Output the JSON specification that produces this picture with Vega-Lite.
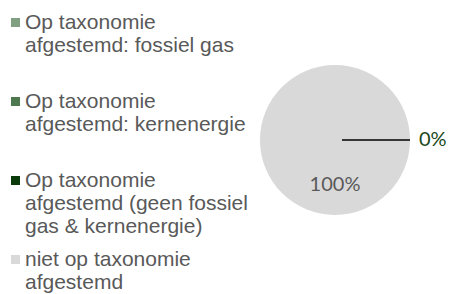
{
  "$schema": "https://vega.github.io/schema/vega-lite/v6.json",
  "width": 150,
  "height": 266,
  "padding": {"left": 0, "top": 7, "right": 0, "bottom": 0},
  "background": "white",
  "config": {"view": {"stroke": null}},
  "data": {
    "values": [
      {"categorie": "Op taxonomie afgestemd: fossiel gas", "aandeel": 0, "volgorde": 1},
      {"categorie": "Op taxonomie afgestemd: kernenergie", "aandeel": 0, "volgorde": 2},
      {"categorie": "Op taxonomie afgestemd (geen fossiel gas & kernenergie)", "aandeel": 0, "volgorde": 3},
      {"categorie": "niet op taxonomie afgestemd", "aandeel": 1, "volgorde": 4}
    ]
  },
  "encoding": {
    "theta": {"field": "aandeel", "type": "quantitative", "stack": true, "scale": {"range": [1.5708, 7.854]}},
    "order": {"field": "volgorde", "type": "quantitative"}
  },
  "layer": [
    {
      "mark": {"type": "arc", "radius": 75},
      "encoding": {
        "color": {
          "field": "categorie",
          "type": "nominal",
          "sort": null,
          "scale": {
            "domain": ["Op taxonomie afgestemd: fossiel gas", "Op taxonomie afgestemd: kernenergie", "Op taxonomie afgestemd (geen fossiel gas & kernenergie)", "niet op taxonomie afgestemd"],
            "range": ["#819F81", "#4E784E", "#0B3B0B", "#D9D9D9"]
          },
          "legend": {
            "orient": "left",
            "title": null,
            "symbolType": "square",
            "symbolSize": 81,
            "symbolStrokeWidth": 0,
            "labelFont": "Liberation Sans",
            "labelFontSize": 21,
            "labelColor": "#595959",
            "labelLineHeight": 23,
            "labelBaseline": "middle",
            "labelOffset": -1,
            "labelLimit": 400,
            "gridAlign": "all",
            "rowPadding": 11,
            "padding": 5,
            "offset": 7,
            "labelExpr": "datum.label == 'niet op taxonomie afgestemd' ? ['niet op taxonomie', 'afgestemd'] : datum.label == 'Op taxonomie afgestemd (geen fossiel gas & kernenergie)' ? ['Op taxonomie', 'afgestemd (geen fossiel', 'gas & kernenergie)'] : datum.label == 'Op taxonomie afgestemd: kernenergie' ? ['Op taxonomie', 'afgestemd: kernenergie'] : ['Op taxonomie', 'afgestemd: fossiel gas']"
          }
        }
      }
    },
    {
      "transform": [{"filter": "datum.volgorde == 3"}],
      "mark": {"type": "arc", "radius": 75, "radius2": 7, "fill": null, "stroke": "#000000", "strokeWidth": 1}
    },
    {
      "transform": [{"filter": "datum.volgorde == 3"}],
      "mark": {"type": "text", "radius": 84, "align": "left", "baseline": "middle", "font": "Lato", "fontSize": 20, "color": "#1B4A1B"},
      "encoding": {"text": {"field": "aandeel", "type": "quantitative", "format": ".0%"}}
    },
    {
      "transform": [{"filter": "datum.volgorde == 4"}],
      "mark": {"type": "text", "radius": 45, "align": "center", "baseline": "middle", "font": "Lato", "fontSize": 20, "color": "#595959"},
      "encoding": {
        "theta": {"value": 3.1416},
        "text": {"field": "aandeel", "type": "quantitative", "format": ".0%"}
      }
    }
  ]
}
